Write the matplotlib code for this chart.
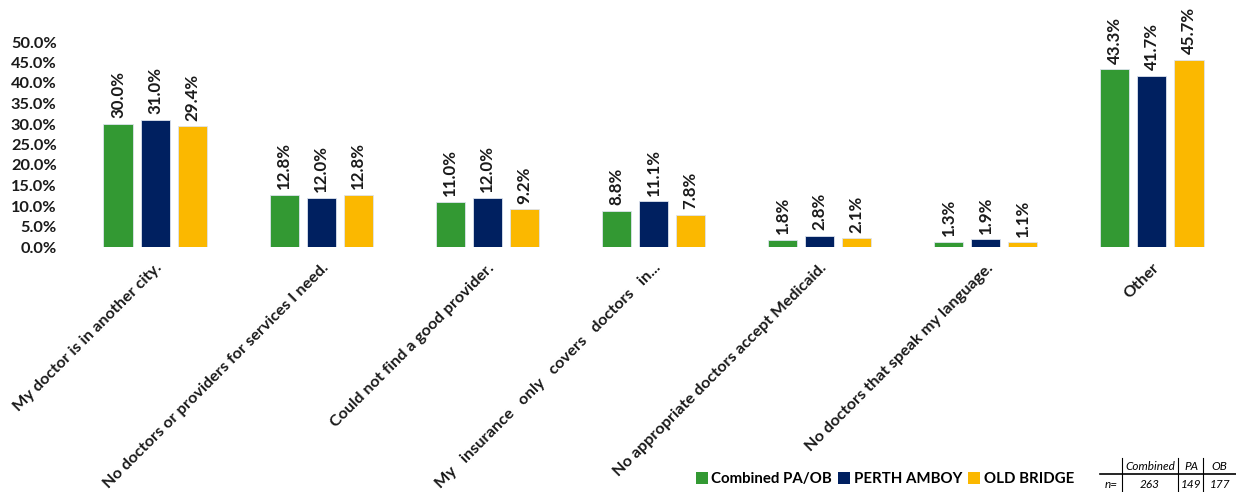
import matplotlib
matplotlib.use("Agg")
import matplotlib.pyplot as plt
import numpy as np
from matplotlib.lines import Line2D
from matplotlib.patches import Patch

plt.rcParams['font.family'] = ['Lato', 'DejaVu Sans']

categories = [
    "My doctor is in another city.",
    "No doctors or providers for services I need.",
    "Could not find a good provider.",
    "My   insurance   only   covers   doctors   in...",
    "No appropriate doctors accept Medicaid.",
    "No doctors that speak my language.",
    "Other",
]
series_names = ["Combined PA/OB", "PERTH AMBOY", "OLD BRIDGE"]
combined = [30.0, 12.8, 11.0, 8.8, 1.8, 1.3, 43.3]
perth_amboy = [31.0, 12.0, 12.0, 11.1, 2.8, 1.9, 41.7]
old_bridge = [29.4, 12.8, 9.2, 7.8, 2.1, 1.1, 45.7]
colors = ["#339933", "#002060", "#FBB800"]
yticks = [0, 5, 10, 15, 20, 25, 30, 35, 40, 45, 50]

table_header = ["Combined", "PA", "OB"]
table_n = ["263", "149", "177"]

W, H = 1236, 492
fig = plt.figure(figsize=(W / 100, H / 100), dpi=100)
ax = fig.add_axes([72 / W, 1 - 247 / H, (1235 - 72) / W, (247 - 42) / H])

x = np.arange(len(categories))
step = 0.223
width = 0.175
for i, (vals, col) in enumerate(zip([combined, perth_amboy, old_bridge], colors)):
    pos = x + (i - 1) * step
    ax.bar(pos, vals, width=width, color=col, edgecolor="#dde3ee", linewidth=0.6)
    for p, v in zip(pos, vals):
        ax.annotate(f"{v:.1f}%", (p, v), xytext=(0, 4), textcoords="offset points",
                    rotation=90, ha="center", va="bottom", fontsize=12.2,
                    fontweight="bold", color="#1a1a1a", annotation_clip=False)

ax.set_xlim(-0.5, len(categories) - 0.5)
ax.set_ylim(0, 50)
ax.set_yticks(yticks)
ax.set_yticklabels([f"{t:.1f}%" for t in yticks], fontsize=11.8, fontweight="bold", color="#1a1a1a")
ax.set_xticks(x)
ax.set_xticklabels(categories, rotation=45, ha="right", rotation_mode="anchor",
                   fontsize=11.7, fontweight="bold", color="#1a1a1a")
ax.tick_params(axis="both", length=0)
ax.tick_params(axis="x", pad=10)
ax.tick_params(axis="y", pad=11)
for s in ax.spines.values():
    s.set_visible(False)

handles = [Patch(facecolor=c, edgecolor="none") for c in colors]
fig.legend(handles, series_names, loc="center", bbox_to_anchor=(885 / W, 1 - 479 / H),
           ncol=3, frameon=False, handlelength=0.8, handleheight=0.8,
           handletextpad=0.25, columnspacing=0.4, prop={"weight": "bold", "size": 10.8})

# small sample-size table
def fx(px):
    return px / W

def fy(py):
    return 1 - py / H

fig.add_artist(Line2D([fx(1100), fx(1236)], [fy(474), fy(474)], color="black", lw=1.2))
for vx in [1122, 1178, 1203]:
    fig.add_artist(Line2D([fx(vx), fx(vx)], [fy(458), fy(492)], color="black", lw=0.8))
for txt, cx in zip(table_header, [1150, 1191, 1219]):
    fig.text(fx(cx), fy(467), txt, ha="center", va="center", fontsize=8.5, style="italic")
fig.text(fx(1111), fy(485), "n=", ha="center", va="center", fontsize=8.5, style="italic")
for txt, cx in zip(table_n, [1150, 1191, 1220]):
    fig.text(fx(cx), fy(485), txt, ha="center", va="center", fontsize=8.5, style="italic")

fig.savefig("out.png", dpi=100)
